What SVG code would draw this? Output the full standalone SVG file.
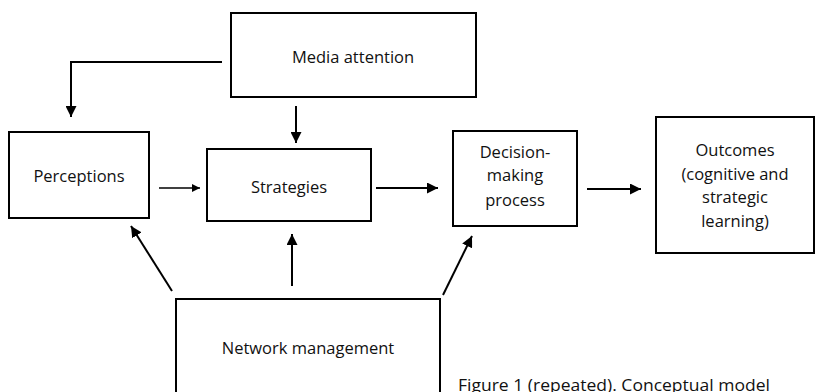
<svg xmlns="http://www.w3.org/2000/svg" width="815" height="392" viewBox="0 0 815 392">
  <style>
    .box { fill: #ffffff; stroke: #000000; stroke-width: 2; }
    .lbl { font-family: "Open Sans", "Liberation Sans", sans-serif; font-size: 16.5px; fill: #111111; text-anchor: middle; }
    .cap { font-family: "Open Sans", "Liberation Sans", sans-serif; font-size: 16.5px; fill: #111111; }
    .edge { fill: none; stroke: #000000; stroke-width: 2; marker-end: url(#head); }
  </style>
  <defs>
    <marker id="head" viewBox="0 0 10 10" refX="10" refY="5" markerWidth="5.5" markerHeight="5.5" orient="auto" markerUnits="strokeWidth">
      <path d="M0,0 L10,5 L0,10 Z" fill="#000000"/>
    </marker>
  </defs>
  <rect width="815" height="392" fill="#ffffff"/>

  <g id="media-attention">
    <rect class="box" x="231" y="13" width="245" height="84"/>
    <text class="lbl" x="353" y="63">Media attention</text>
  </g>

  <g id="perceptions">
    <rect class="box" x="9" y="132" width="140" height="86"/>
    <text class="lbl" x="79" y="182">Perceptions</text>
  </g>

  <g id="strategies">
    <rect class="box" x="207" y="149" width="164" height="72"/>
    <text class="lbl" x="289" y="193">Strategies</text>
  </g>

  <g id="decision-making">
    <rect class="box" x="453" y="131" width="124" height="95"/>
    <text class="lbl" x="515" y="158">Decision-</text>
    <text class="lbl" x="515" y="181">making</text>
    <text class="lbl" x="515" y="206">process</text>
  </g>

  <g id="outcomes">
    <rect class="box" x="656" y="117" width="158" height="136"/>
    <text class="lbl" x="735" y="156">Outcomes</text>
    <text class="lbl" x="735" y="180">(cognitive and</text>
    <text class="lbl" x="735" y="203">strategic</text>
    <text class="lbl" x="735" y="227">learning)</text>
  </g>

  <g id="network-management">
    <rect class="box" x="176" y="299" width="264" height="110"/>
    <text class="lbl" x="308" y="354">Network management</text>
  </g>

  <g id="connectors">
    <path class="edge" d="M222,62 H71 V117"/>
    <path class="edge" d="M296,106 V143"/>
    <path class="edge" d="M159,188 H200" style="stroke-width:1.5"/>
    <path class="edge" d="M376,188 H438"/>
    <path class="edge" d="M587,189 H641"/>
    <path class="edge" d="M172,291 L131,226"/>
    <path class="edge" d="M292,286 V234"/>
    <path class="edge" d="M443,295 L472,236"/>
  </g>

  <text class="cap" x="458" y="391" textLength="312" lengthAdjust="spacingAndGlyphs">Figure 1 (repeated). Conceptual model</text>
</svg>
